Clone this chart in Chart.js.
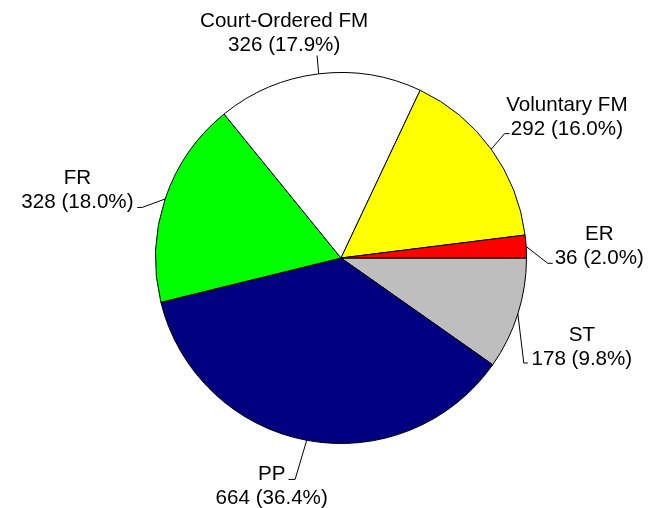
<!DOCTYPE html>
<html>
<head>
<meta charset="utf-8">
<script src="https://cdn.jsdelivr.net/npm/chart.js@4/dist/chart.umd.min.js"></script>
<style>
html,body{margin:0;padding:0;background:#fff;}
#wrap{width:653px;height:508px;}
</style>
</head>
<body>
<div id="wrap"><canvas id="c" width="653" height="508"></canvas></div>
<script>
// Data (counter-clockwise order from 3 o'clock, as in the reference)
const categories = ["ER", "Voluntary FM", "Court-Ordered FM", "FR", "PP", "ST"];
const values = [36, 292, 326, 328, 664, 178];
const colors = ["#FF0000", "#FFFF00", "#FFFFFF", "#00FF00", "#000080", "#BEBEBE"];

// Label layout, in pixels at reference radius, relative to the pie centre:
// elbow = end of slanted leader, end = end of horizontal tick, text = centre x / first baseline
const labelLayout = {
  "ER":               {elbow:[207.3, 5.3],   end:[212.3, 5.3],   text:[259, -18]},
  "Voluntary FM":     {elbow:[164, -124.7],  end:[169, -124.7],  text:[226.5, -147.3]},
  "Court-Ordered FM": {elbow:[-24, -203],    end:[-24, -203],    text:[-57, -231.3]},
  "FR":               {elbow:[-199.3, -50.7],end:[-204.3, -50.7],text:[-264.3, -74.7]},
  "PP":               {elbow:[-46, 222],     end:[-52.7, 222],   text:[-69.5, 222.7]},
  "ST":               {elbow:[183.3, 105.3], end:[187.3, 105.3], text:[241.5, 83.7]}
};
const REF_R = 186;

const total = values.reduce((a, b) => a + b, 0);

// Chart.js draws clockwise, so reverse to get counter-clockwise order
const order = categories.map((_, i) => i).reverse();

const labelPlugin = {
  id: 'pieLabels',
  afterDatasetsDraw(chart) {
    const ctx = chart.ctx;
    const meta = chart.getDatasetMeta(0);
    ctx.save();
    ctx.strokeStyle = '#000';
    ctx.lineWidth = 1;
    ctx.fillStyle = '#000';
    ctx.font = '20.6px "Liberation Sans", Arial, sans-serif';
    ctx.textAlign = 'center';
    ctx.textBaseline = 'alphabetic';
    meta.data.forEach((arc, j) => {
      const idx = order[j];
      const name = categories[idx];
      const lay = labelLayout[name];
      const p = arc.getProps(['x', 'y', 'startAngle', 'endAngle', 'outerRadius'], true);
      const s = p.outerRadius / REF_R;
      const mid = (p.startAngle + p.endAngle) / 2;
      const sx = p.x + p.outerRadius * Math.cos(mid);
      const sy = p.y + p.outerRadius * Math.sin(mid);
      const ex = p.x + lay.elbow[0] * s, ey = p.y + lay.elbow[1] * s;
      const lx = p.x + lay.end[0] * s, ly = p.y + lay.end[1] * s;
      ctx.beginPath();
      ctx.moveTo(sx, sy);
      ctx.lineTo(ex, ey);
      ctx.lineTo(lx, ly);
      ctx.stroke();
      const tx = p.x + lay.text[0] * s, ty = p.y + lay.text[1] * s;
      const pct = (values[idx] / total * 100).toFixed(1);
      ctx.fillText(name, tx, ty);
      ctx.fillText(values[idx] + ' (' + pct + '%)', tx, ty + 24);
    });
    ctx.restore();
  }
};

new Chart(document.getElementById('c'), {
  type: 'pie',
  data: {
    labels: order.map(i => categories[i]),
    datasets: [{
      data: order.map(i => values[i]),
      backgroundColor: order.map(i => colors[i]),
      borderColor: '#000000',
      borderWidth: 1
    }]
  },
  options: {
    responsive: false,
    animation: false,
    rotation: 90,
    layout: {padding: {left: 155, right: 126, top: 72, bottom: 64}},
    plugins: {
      legend: {display: false},
      tooltip: {enabled: false}
    }
  },
  plugins: [labelPlugin]
});
</script>
</body>
</html>
